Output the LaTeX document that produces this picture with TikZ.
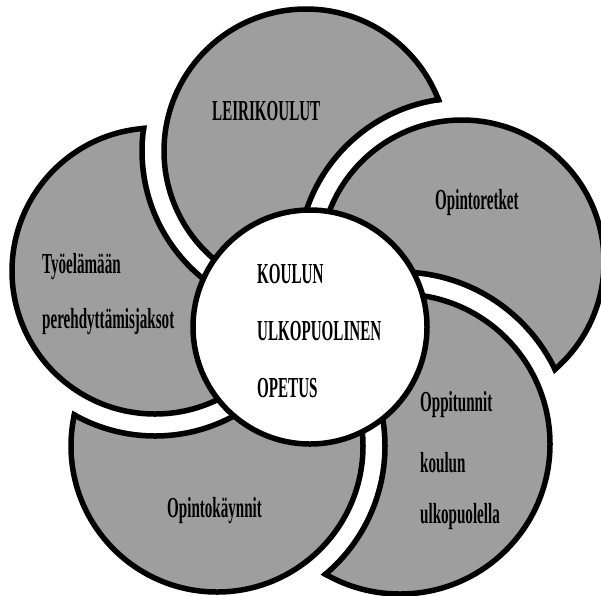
\documentclass[tikz,border=0pt]{standalone}
\usepackage{fontspec}
\setmainfont{Liberation Serif}
\usepackage{graphicx}
\definecolor{petalgray}{RGB}{158,158,158}
\newcommand\narrowtxt[1]{\scalebox{0.52}[1]{#1}}
\def\gapoff{22}
\def\lwn{5.5}
\tikzset{
  outline/.style={draw=black, line width=\lwn pt},
  lbl/.style={font=\fontsize{29}{29}\selectfont\bfseries, inner sep=0pt, anchor=base west, text=black},
}
% #1 petal centre, #2 radius, #3 cutter centre, #4 cutter radius
\newcommand\drawpetal[4]{%
  \begin{scope}[even odd rule]
    \clip (-100,-100) -- (-100,800) -- (800,800) -- (800,-100) -- cycle
          (#3) circle ({#4+\gapoff-\lwn/2});
    \fill[petalgray] (#1) circle (#2);
    \draw[outline] (#1) circle (#2);
    \begin{scope}
      \clip (#1) circle ({#2+\lwn/2});
      \draw[outline] (#3) circle ({#4+\gapoff});
    \end{scope}
  \end{scope}}
\begin{document}
\begin{tikzpicture}[x=1pt,y=-1pt]
  \useasboundingbox[fill=white] (0,0) rectangle (601,595);
  \coordinate (T)  at (306,151);
  \coordinate (Rt) at (462,262);
  \coordinate (BR) at (400,444);
  \coordinate (BL) at (217,446);
  \coordinate (L)  at (155,271);
  \coordinate (C)  at (310,327);

  \drawpetal{T}{142}{Rt}{142}
  \drawpetal{Rt}{142}{BR}{150}
  \drawpetal{BR}{150}{BL}{146}
  \drawpetal{BL}{146}{L}{143}
  \drawpetal{L}{143}{T}{142}

  \fill[white] (C) circle (117);
  \draw[outline] (C) circle (117);

  \node[lbl] (leiri) at (212,120) {\narrowtxt{LEIRIKOULUT}};
  \node[lbl] (retket) at (435,209) {\narrowtxt{Opintoretket}};
  \node[lbl] (c1) at (257,283) {\narrowtxt{KOULUN}};
  \node[lbl] (c2) at (257,340) {\narrowtxt{ULKOPUOLINEN}};
  \node[lbl] (c3) at (257,397) {\narrowtxt{OPETUS}};
  \node[lbl] (ty1) at (42,273) {\narrowtxt{Työelämään}};
  \node[lbl] (ty2) at (42,328) {\narrowtxt{perehdyttämisjaksot}};
  \node[lbl] (kay) at (167,517) {\narrowtxt{Opintokäynnit}};
  \node[lbl] (op1) at (420,411) {\narrowtxt{Oppitunnit}};
  \node[lbl] (op2) at (420,472) {\narrowtxt{koulun}};
  \node[lbl] (op3) at (420,523) {\narrowtxt{ulkopuolella}};
\end{tikzpicture}
\end{document}
